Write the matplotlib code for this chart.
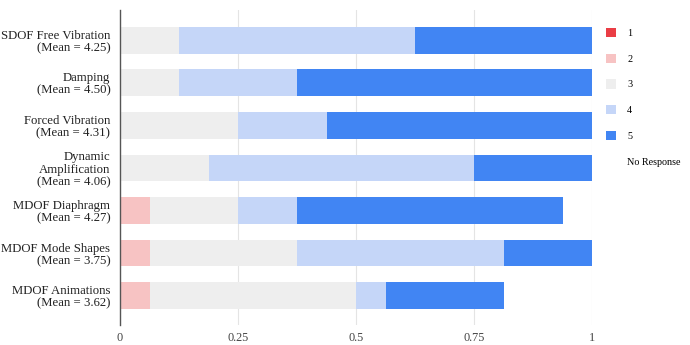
import matplotlib
matplotlib.use('Agg')
import matplotlib.pyplot as plt
from matplotlib.patches import Patch
import numpy as np

# Share of responses per rating for each topic
topics = ['SDOF Free Vibration\n(Mean = 4.25)',
          'Damping\n(Mean = 4.50)',
          'Forced Vibration\n(Mean = 4.31)',
          'Dynamic\nAmplification\n(Mean = 4.06)',
          'MDOF Diaphragm\n(Mean = 4.27)',
          'MDOF Mode Shapes\n(Mean = 3.75)',
          'MDOF Animations\n(Mean = 3.62)']
r1 = [0, 0, 0, 0, 0, 0, 0]
r2 = [0, 0, 0, 0, 0.0625, 0.0625, 0.0625]
r3 = [0.125, 0.125, 0.25, 0.1875, 0.1875, 0.3125, 0.4375]
r4 = [0.5, 0.25, 0.1875, 0.5625, 0.125, 0.4375, 0.0625]
r5 = [0.375, 0.625, 0.5625, 0.25, 0.5625, 0.1875, 0.25]
no_resp = [0, 0, 0, 0, 0.0625, 0, 0.1875]

series = [r1, r2, r3, r4, r5, no_resp]
labels = ['1', '2', '3', '4', '5', 'No Response']
colors = ['#ea3d45', '#f7c3c3', '#eeeeee', '#c5d6f8', '#4185f3', 'none']

xticks = [0, 0.25, 0.5, 0.75, 1]
xticklabels = ['0', '0.25', '0.5', '0.75', '1']

plt.rcParams['font.family'] = ['Liberation Serif', 'DejaVu Serif']

fig = plt.figure(figsize=(6.9, 3.45), dpi=100)
ax = fig.add_axes([120 / 690, 1 - 325 / 345, 472 / 690, 315 / 345])

y = np.arange(len(topics))
left = np.zeros(len(topics))
for vals, c in zip(series, colors):
    vals = np.array(vals)
    ax.barh(y, vals, left=left, height=0.63, color=c, edgecolor='none', zorder=2)
    left += vals

ax.set_ylim(6.69, -0.71)
ax.set_xlim(0, 1)
ax.set_yticks(y)
ax.set_yticklabels(topics, fontsize=9.2, color='#222222', linespacing=1.05)
ax.set_xticks(xticks)
ax.set_xticklabels(xticklabels, fontsize=8.8, color='#444444')
ax.tick_params(axis='y', length=0, pad=7)
ax.tick_params(axis='x', length=0, pad=5)
ax.grid(axis='x', color='#e4e4e4', linewidth=0.8, zorder=0)
for s in ['top', 'right', 'bottom']:
    ax.spines[s].set_visible(False)
ax.spines['left'].set_color('#555555')
ax.spines['left'].set_linewidth(1)
ax.spines['left'].set_zorder(3)

handles = [Patch(facecolor=c if c != 'none' else 'white', edgecolor='none') for c in colors]
fig.legend(handles, labels, loc='upper left', bbox_to_anchor=(606 / 690, 1 - 28 / 345),
           frameon=False, fontsize=7.3, handlelength=1.0, handleheight=1.0,
           labelspacing=1.55, handletextpad=1.1, borderpad=0, borderaxespad=0)

fig.savefig('out.png', dpi=100)
